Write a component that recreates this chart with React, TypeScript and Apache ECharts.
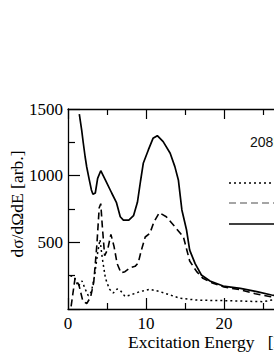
import React, { useEffect, useRef } from "react";
import * as echarts from "echarts";

// Tick labels
const xTickValues = [0, 10, 20, 30, 40];
const yTickValues = [0, 500, 1000, 1500];

// Solid curve
const solidE = [1.45, 1.75, 1.96, 2.2, 2.4, 2.73, 3.0, 3.2, 3.5, 3.8, 4.2, 4.8, 5.6, 6.2, 6.7, 7.1, 7.8, 8.4, 8.9, 9.3, 9.65, 10.3, 10.9, 11.45, 12.2, 13.1, 13.7, 14.15, 14.4, 14.6, 15.2, 15.6, 16.3, 17.1, 18.2, 19.9, 22.1, 24.2, 26.1, 28, 30];
const solidY = [1462, 1343, 1245, 1140, 1065, 968, 893, 860, 870, 980, 1037, 967, 870, 800, 692, 667, 667, 700, 800, 960, 1093, 1193, 1280, 1300, 1255, 1168, 1068, 968, 843, 743, 592, 442, 340, 255, 210, 172, 155, 130, 105, 90, 80];

// Dashed curve
const dashedE = [0.4, 0.9, 1.4, 1.9, 2.4, 2.9, 3.3, 3.7, 4.0, 4.2, 4.4, 4.7, 5.1, 5.5, 5.9, 6.3, 6.8, 7.3, 8.0, 8.6, 9.0, 9.4, 9.9, 10.5, 11.0, 11.7, 12.6, 13.7, 14.8, 15.2, 15.6, 16.5, 17.3, 18.5, 20, 22, 24, 26, 28, 30];
const dashedY = [20, 230, 180, 60, 40, 90, 200, 480, 760, 790, 620, 400, 450, 560, 470, 340, 270, 280, 310, 320, 345, 440, 540, 568, 650, 722, 692, 617, 540, 450, 360, 280, 230, 195, 165, 145, 115, 92, 80, 70];

// Dotted curve
const dottedE = [0.3, 0.8, 1.3, 1.8, 2.2, 2.6, 3.0, 3.4, 3.8, 4.1, 4.4, 4.8, 5.3, 5.8, 6.3, 6.7, 7.3, 8.0, 9.2, 10.5, 11.8, 13.1, 14.4, 16.5, 18.5, 20.8, 23, 25, 26.4, 28, 30];
const dottedY = [250, 240, 170, 210, 150, 100, 130, 250, 420, 520, 380, 230, 150, 120, 150, 140, 95, 105, 130, 148, 130, 105, 80, 67, 64, 62, 58, 55, 70, 72, 70];

const legendTitle = "208Pb";
const xName = "Excitation Energy   [MeV]";
const yName = "dσ/dΩdE [arb.]";

const zip = (a: number[], b: number[]) => a.map((v, i) => [v, b[i]]);

const SERIF = '"Liberation Serif", "Times New Roman", serif';

function axisCommon(showLabels: boolean) {
  return {
    axisLine: { show: true, lineStyle: { color: "#000", width: 1.3 } },
    axisTick: { show: true, inside: true, length: 11, lineStyle: { color: "#000", width: 1.2 } },
    minorTick: { show: true, splitNumber: 2, length: 6, lineStyle: { color: "#000", width: 1.2 } },
    splitLine: { show: false },
    minorSplitLine: { show: false },
    axisLabel: showLabels
      ? { show: true, color: "#000", fontFamily: SERIF, fontSize: 17, formatter: (v: number) => String(v) }
      : { show: false },
  };
}

export default function App() {
  const ref = useRef<HTMLDivElement>(null);
  useEffect(() => {
    document.body.style.margin = "0";
    document.body.style.overflow = "hidden";
    document.documentElement.style.overflow = "hidden";
    const chart = echarts.init(ref.current!, null, { renderer: "svg" });
    const x0 = axisCommon(true);
    const y0 = axisCommon(true);
    chart.setOption({
      animation: false,
      backgroundColor: "#fff",
      grid: { left: 68, top: 109, width: 312, height: 200, containLabel: false, outerBoundsMode: "none" },
      xAxis: [
        {
          type: "value",
          position: "bottom",
          min: xTickValues[0],
          max: xTickValues[xTickValues.length - 1],
          interval: 10,
          ...x0,
          axisLabel: { ...x0.axisLabel, margin: 6 },
        },
        {
          type: "value",
          position: "top",
          min: xTickValues[0],
          max: xTickValues[xTickValues.length - 1],
          interval: 10,
          ...axisCommon(false),
          axisTick: { show: true, inside: true, length: 10, lineStyle: { color: "#000", width: 1.2 } },
        },
      ],
      yAxis: [
        {
          type: "value",
          position: "left",
          min: yTickValues[0],
          max: yTickValues[yTickValues.length - 1],
          interval: 500,
          ...y0,
          axisTick: { show: true, inside: true, length: 12, lineStyle: { color: "#000", width: 1.2 } },
          minorTick: { show: true, splitNumber: 2, length: 7, lineStyle: { color: "#000", width: 1.2 } },
          axisLabel: { ...y0.axisLabel, margin: 5, showMinLabel: false },
        },
      ],
      series: [
        {
          type: "line",
          name: "dotted",
          data: zip(dottedE, dottedY),
          showSymbol: false,
          lineStyle: { color: "#000", width: 1.5, type: [2, 3] },
        },
        {
          type: "line",
          name: "dashed",
          data: zip(dashedE, dashedY),
          showSymbol: false,
          lineStyle: { color: "#000", width: 1.6, type: [7, 4] },
        },
        {
          type: "line",
          name: "solid",
          data: zip(solidE, solidY),
          showSymbol: false,
          lineStyle: { color: "#000", width: 1.7 },
        },
      ],
      graphic: [
        {
          type: "text",
          x: 17,
          y: 204,
          rotation: Math.PI / 2,
          style: {
            text: yName,
            fill: "#000",
            font: `17.5px ${SERIF}`,
            textAlign: "center",
            textVerticalAlign: "middle",
          },
        },
        {
          type: "text",
          x: 128,
          y: 342,
          style: {
            text: xName,
            fill: "#000",
            font: `17.5px ${SERIF}`,
            textAlign: "left",
            textVerticalAlign: "middle",
          },
        },
        {
          type: "text",
          x: 250,
          y: 142,
          style: {
            text: legendTitle,
            fill: "#111",
            font: '14px "Liberation Sans", Arial, sans-serif',
            textAlign: "left",
            textVerticalAlign: "middle",
          },
        },
        {
          type: "line",
          shape: { x1: 229, y1: 183, x2: 300, y2: 183 },
          style: { stroke: "#000", lineWidth: 1.3, lineDash: [2, 3] },
        },
        {
          type: "line",
          shape: { x1: 229, y1: 203, x2: 300, y2: 203 },
          style: { stroke: "#888", lineWidth: 1.5, lineDash: [7, 4] },
        },
        {
          type: "line",
          shape: { x1: 229, y1: 224, x2: 300, y2: 224 },
          style: { stroke: "#000", lineWidth: 1.5 },
        },
      ],
    });
    return () => chart.dispose();
  }, []);
  return <div ref={ref} style={{ width: 420, height: 354, overflow: "hidden" }} />;
}
